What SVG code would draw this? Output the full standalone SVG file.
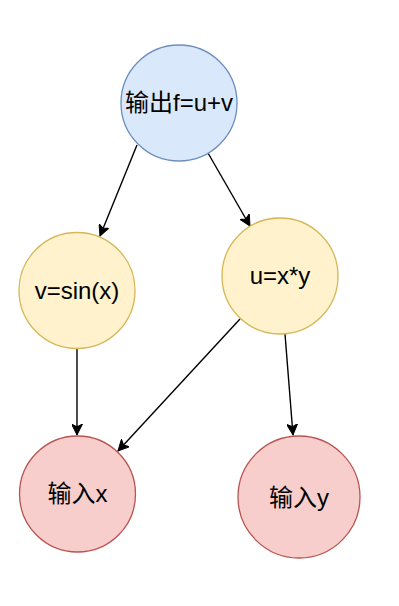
<svg xmlns="http://www.w3.org/2000/svg" width="399" height="606" viewBox="0 0 399 606">
<style>
text{font-family:"Liberation Sans","Noto Sans CJK SC",sans-serif;font-size:24px;text-anchor:middle;fill:#000}
.blue{fill:#dae8fc;stroke:#6c8ebf;stroke-width:1.3}
.yellow{fill:#fff2cc;stroke:#d6b656;stroke-width:1.3}
.red{fill:#f8cecc;stroke:#b85450;stroke-width:1.3}
.edge{fill:none;stroke:#000;stroke-width:1.4;marker-end:url(#arr)}
</style>
<defs>
<marker id="arr" markerWidth="13" markerHeight="11" refX="11" refY="5.5" orient="auto" markerUnits="userSpaceOnUse">
<path d="M0,0 L11,5.5 L0,11 L2.8,5.5 Z" fill="#000" stroke="#000" stroke-width="1"/>
</marker>
</defs>
<rect width="399" height="606" fill="#fff"/>
<g id="connectors">
<line class="edge" x1="137" y1="145" x2="100" y2="236"/>
<line class="edge" x1="208" y1="153" x2="250" y2="226"/>
<line class="edge" x1="77" y1="349" x2="77" y2="435"/>
<line class="edge" x1="240" y1="319" x2="118" y2="451"/>
<line class="edge" x1="285" y1="334" x2="293" y2="435"/>
</g>
<g id="node-f"><circle class="blue" cx="179" cy="103" r="58"/><text x="179" y="111">输出f=u+v</text></g>
<g id="node-v"><circle class="yellow" cx="77" cy="290.5" r="58"/><text x="77" y="299">v=sin(x)</text></g>
<g id="node-u"><circle class="yellow" cx="280" cy="276" r="58"/><text x="280" y="284">u=x*y</text></g>
<g id="node-x"><circle class="red" cx="77.5" cy="494" r="58"/><text x="77.5" y="502">输入x</text></g>
<g id="node-y"><circle class="red" cx="299" cy="497" r="61"/><text x="299" y="506">输入y</text></g>
</svg>
